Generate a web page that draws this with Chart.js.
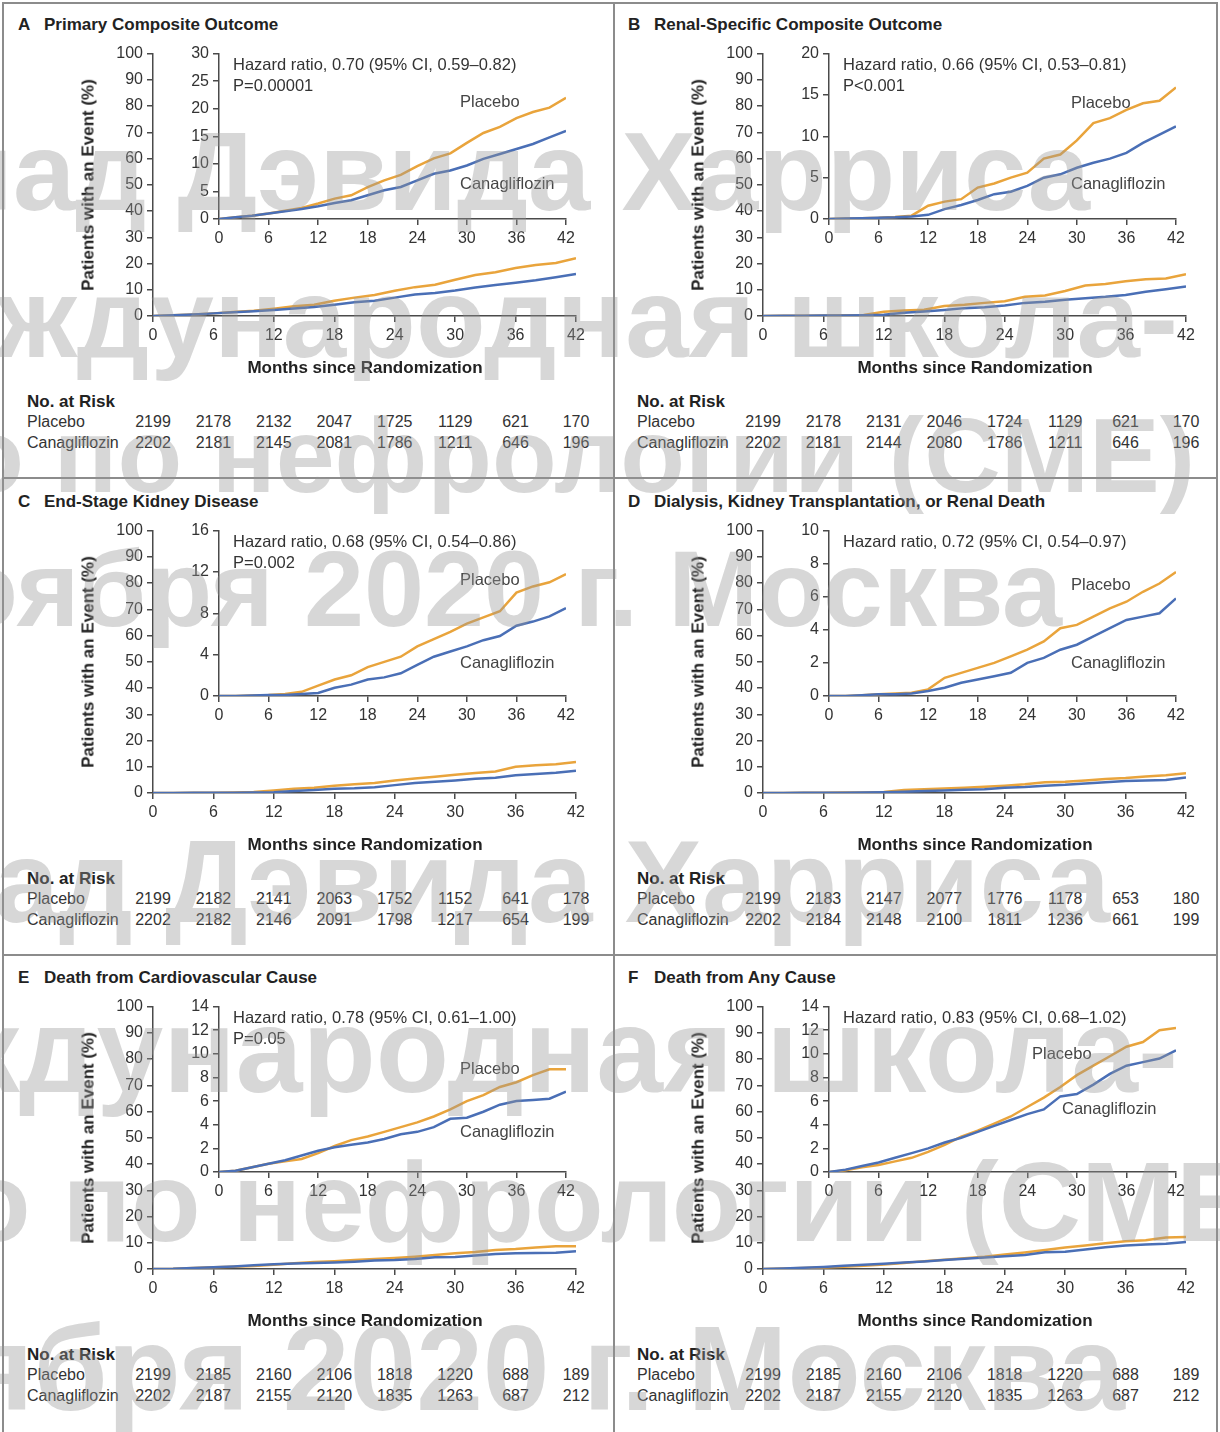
<!DOCTYPE html>
<html lang="en">
<head>
<meta charset="UTF-8">
<title>Canagliflozin vs Placebo - Outcomes</title>
<script src="https://cdn.jsdelivr.net/npm/chart.js"></script>
<style>
    body { margin: 0; background: #fff; }
    .page {
        position: relative; width: 1220px; height: 1432px; overflow: hidden;
        font-family: "Liberation Sans", Arial, sans-serif; color: #2a2a2a;
    }
    .panel { position: absolute; width: 610px; height: 477px; }
    .panel canvas { position: absolute; }
    .txt { position: absolute; white-space: nowrap; line-height: 1; }
    .bold { font-weight: bold; font-size: 17px; color: #222; }
    .note { font-size: 16.5px; color: #333; }
    .arm { font-size: 16.5px; color: #444; }
    .risk { font-size: 16px; color: #333; }
    .frame { position: absolute; background: #8c8c8c; }
    .mark {
        position: absolute; white-space: nowrap; line-height: 1; font-weight: bold;
        color: rgba(150, 150, 150, 0.38); pointer-events: none;
    }
</style>
</head>
<body>
<div class="page" id="page"></div>

<script>
    // Follow-up time (months) and axis ticks
    const months = [0, 2, 4, 6, 8, 10, 12, 14, 16, 18, 20, 22, 24, 26, 28, 30, 32, 34, 36, 38, 40, 42];
    const monthTicks = [0, 6, 12, 18, 24, 30, 36, 42];

    // Cumulative incidence (%) per arm
    const primaryPlacebo = [0, 0.3, 0.6, 1.0, 1.5, 2.0, 2.8, 3.7, 4.3, 5.8, 7.0, 8.0, 9.6, 11.0, 11.9, 13.8, 15.6, 16.7, 18.3, 19.4, 20.2, 22.0];
    const primaryCana = [0, 0.3, 0.6, 1.0, 1.4, 1.8, 2.3, 2.9, 3.4, 4.3, 5.2, 5.8, 7.0, 8.2, 8.8, 9.7, 10.9, 11.8, 12.7, 13.6, 14.8, 16.0];
    const renalPlacebo = [0, 0.05, 0.1, 0.15, 0.25, 0.4, 1.6, 2.1, 2.4, 3.8, 4.3, 5.0, 5.6, 7.3, 7.8, 9.5, 11.6, 12.2, 13.2, 14.0, 14.3, 15.9];
    const renalCana = [0, 0.05, 0.1, 0.15, 0.2, 0.3, 0.5, 1.2, 1.7, 2.3, 3.0, 3.3, 4.0, 5.0, 5.4, 6.2, 6.8, 7.3, 8.0, 9.2, 10.2, 11.2];
    const eskdPlacebo = [0, 0, 0.05, 0.1, 0.2, 0.4, 1.0, 1.6, 2.0, 2.8, 3.3, 3.8, 4.8, 5.5, 6.2, 7.0, 7.6, 8.2, 10.0, 10.6, 11.0, 11.8];
    const eskdCana = [0, 0, 0.05, 0.1, 0.1, 0.2, 0.3, 0.8, 1.1, 1.6, 1.8, 2.2, 3.0, 3.8, 4.3, 4.8, 5.4, 5.8, 6.8, 7.2, 7.7, 8.5];
    const dialysisPlacebo = [0, 0, 0.05, 0.1, 0.15, 0.2, 0.4, 1.1, 1.4, 1.7, 2.0, 2.4, 2.8, 3.3, 4.1, 4.3, 4.8, 5.3, 5.7, 6.3, 6.8, 7.5];
    const dialysisCana = [0, 0, 0.05, 0.1, 0.1, 0.15, 0.3, 0.5, 0.8, 1.0, 1.2, 1.4, 2.0, 2.3, 2.8, 3.1, 3.6, 4.1, 4.6, 4.8, 5.0, 5.9];
    const cvDeathPlacebo = [0, 0.1, 0.4, 0.7, 0.9, 1.1, 1.6, 2.2, 2.7, 3.0, 3.4, 3.8, 4.2, 4.7, 5.3, 6.0, 6.5, 7.2, 7.6, 8.2, 8.7, 8.7];
    const cvDeathCana = [0, 0.1, 0.4, 0.7, 1.0, 1.4, 1.8, 2.1, 2.3, 2.5, 2.8, 3.2, 3.4, 3.8, 4.5, 4.6, 5.1, 5.7, 6.0, 6.1, 6.2, 6.8];
    const anyDeathPlacebo = [0, 0.15, 0.4, 0.6, 0.9, 1.2, 1.7, 2.3, 3.0, 3.5, 4.1, 4.7, 5.5, 6.3, 7.2, 8.2, 9.0, 9.8, 10.6, 11.0, 12.0, 12.2];
    const anyDeathCana = [0, 0.2, 0.5, 0.8, 1.2, 1.6, 2.0, 2.5, 2.9, 3.4, 3.9, 4.4, 4.9, 5.3, 6.4, 6.6, 7.4, 8.3, 9.0, 9.3, 9.6, 10.3];

    // Numbers at risk at each 6-month tick
    const riskPlaceboA = [2199, 2178, 2132, 2047, 1725, 1129, 621, 170];
    const riskCanaA = [2202, 2181, 2145, 2081, 1786, 1211, 646, 196];
    const riskPlaceboB = [2199, 2178, 2131, 2046, 1724, 1129, 621, 170];
    const riskCanaB = [2202, 2181, 2144, 2080, 1786, 1211, 646, 196];
    const riskPlaceboC = [2199, 2182, 2141, 2063, 1752, 1152, 641, 178];
    const riskCanaC = [2202, 2182, 2146, 2091, 1798, 1217, 654, 199];
    const riskPlaceboD = [2199, 2183, 2147, 2077, 1776, 1178, 653, 180];
    const riskCanaD = [2202, 2184, 2148, 2100, 1811, 1236, 661, 199];
    const riskPlaceboE = [2199, 2185, 2160, 2106, 1818, 1220, 688, 189];
    const riskCanaE = [2202, 2187, 2155, 2120, 1835, 1263, 687, 212];
    const riskPlaceboF = [2199, 2185, 2160, 2106, 1818, 1220, 688, 189];
    const riskCanaF = [2202, 2187, 2155, 2120, 1835, 1263, 687, 212];

    // Panel texts and inset y ranges
    const panelLetters = ['A', 'B', 'C', 'D', 'E', 'F'];
    const panelTitles = ['Primary Composite Outcome', 'Renal-Specific Composite Outcome', 'End-Stage Kidney Disease',
        'Dialysis, Kidney Transplantation, or Renal Death', 'Death from Cardiovascular Cause', 'Death from Any Cause'];
    const hazardTexts = ['Hazard ratio, 0.70 (95% CI, 0.59–0.82)', 'Hazard ratio, 0.66 (95% CI, 0.53–0.81)',
        'Hazard ratio, 0.68 (95% CI, 0.54–0.86)', 'Hazard ratio, 0.72 (95% CI, 0.54–0.97)',
        'Hazard ratio, 0.78 (95% CI, 0.61–1.00)', 'Hazard ratio, 0.83 (95% CI, 0.68–1.02)'];
    const pTexts = ['P=0.00001', 'P<0.001', 'P=0.002', '', 'P=0.05', ''];
    const insetMax = [30, 20, 16, 10, 14, 14];
    const insetStep = [5, 5, 2, 2, 2, 2];

    const placeboSeries = [primaryPlacebo, renalPlacebo, eskdPlacebo, dialysisPlacebo, cvDeathPlacebo, anyDeathPlacebo];
    const canaSeries = [primaryCana, renalCana, eskdCana, dialysisCana, cvDeathCana, anyDeathCana];
    const riskPlacebo = [riskPlaceboA, riskPlaceboB, riskPlaceboC, riskPlaceboD, riskPlaceboE, riskPlaceboF];
    const riskCana = [riskCanaA, riskCanaB, riskCanaC, riskCanaD, riskCanaE, riskCanaF];

    // Layout: panel origins and arm label spots inside each panel
    const panelOrigins = [[0, 0], [610, 0], [0, 477], [610, 477], [0, 953], [610, 953]];
    const armLabelPos = [
        { p: [460, 101], c: [460, 183] }, { p: [461, 102], c: [461, 183] },
        { p: [460, 102], c: [460, 185] }, { p: [461, 107], c: [461, 185] },
        { p: [460, 115], c: [460, 178] }, { p: [422, 100], c: [452, 155] }
    ];

    const PLACEBO_COLOR = '#e9a43c';
    const CANA_COLOR = '#4a6fb6';
    const AXIS_COLOR = '#4a4a4a';

    const page = document.getElementById('page');

    function addText(parent, text, x, y, cls, align) {
        const el = document.createElement('div');
        el.className = 'txt ' + cls;
        el.textContent = text;
        el.style.left = x + 'px';
        el.style.top = y + 'px';
        const tx = align === 'center' ? '-50%' : '0';
        el.style.transform = `translate(${tx}, -50%)`;
        parent.appendChild(el);
        return el;
    }

    function addCanvas(parent, left, top, width, height) {
        const c = document.createElement('canvas');
        c.width = width; c.height = height;
        c.style.left = left + 'px'; c.style.top = top + 'px';
        c.style.width = width + 'px'; c.style.height = height + 'px';
        parent.appendChild(c);
        return c;
    }

    function axisOpts(min, max, step, fitKey, fitSize) {
        return {
            type: 'linear', min: min, max: max,
            ticks: { stepSize: step, color: '#333', font: { family: 'Liberation Sans', size: 16 }, padding: 4 },
            grid: { drawOnChartArea: false, tickLength: 6, color: AXIS_COLOR, lineWidth: 1.5 },
            border: { color: AXIS_COLOR, width: 1.5 },
            afterFit: (s) => { s[fitKey] = fitSize; }
        };
    }

    function kmChart(canvas, placebo, cana, yMax, yStep, pad, yWidth, xHeight) {
        const toPoints = (vals) => months.map((m, i) => ({ x: m, y: vals[i] }));
        return new Chart(canvas, {
            type: 'line',
            data: {
                datasets: [
                    { label: 'Canagliflozin', data: toPoints(cana), borderColor: CANA_COLOR, borderWidth: 2.5,
                      pointRadius: 0, tension: 0, fill: false },
                    { label: 'Placebo', data: toPoints(placebo), borderColor: PLACEBO_COLOR, borderWidth: 2.5,
                      pointRadius: 0, tension: 0, fill: false }
                ]
            },
            options: {
                responsive: false, animation: false,
                layout: { padding: pad },
                plugins: { legend: { display: false }, tooltip: { enabled: false } },
                scales: {
                    x: axisOpts(0, 42, 6, 'height', xHeight),
                    y: axisOpts(0, yMax, yStep, 'width', yWidth)
                }
            }
        });
    }

    panelOrigins.forEach(([ox, oy], i) => {
        const panel = document.createElement('div');
        panel.className = 'panel';
        panel.style.left = ox + 'px';
        panel.style.top = oy + 'px';
        page.appendChild(panel);

        addText(panel, panelLetters[i], 18, 24, 'bold');
        addText(panel, panelTitles[i], 44, 24, 'bold');

        // full-scale plot, 0-100%
        const mainLeft = 90, mainTop = 40;
        const mainCanvas = addCanvas(panel, mainLeft, mainTop, 520, 320);
        const main = kmChart(mainCanvas, placeboSeries[i], canaSeries[i], 100, 10,
            { top: 12, right: 34, left: 0, bottom: 0 }, 63, 44);

        // zoomed inset
        const insetCanvas = addCanvas(panel, 170, 40, 410, 215);
        kmChart(insetCanvas, placeboSeries[i], canaSeries[i], insetMax[i], insetStep[i],
            { top: 12, right: 14, left: 0, bottom: 0 }, 49, 36);

        addText(panel, hazardTexts[i], 233, 64, 'note');
        if (pTexts[i]) addText(panel, pTexts[i], 233, 85, 'note');
        addText(panel, 'Placebo', armLabelPos[i].p[0], armLabelPos[i].p[1], 'arm');
        addText(panel, 'Canagliflozin', armLabelPos[i].c[0], armLabelPos[i].c[1], 'arm');

        // axis titles
        const yTitle = addText(panel, 'Patients with an Event (%)', 88, 185, 'bold', 'center');
        yTitle.style.transform = 'translate(-50%, -50%) rotate(-90deg)';
        addText(panel, 'Months since Randomization', 365, 367, 'bold', 'center');

        // numbers at risk, aligned on the month ticks
        addText(panel, 'No. at Risk', 27, 401, 'bold');
        addText(panel, 'Placebo', 27, 422, 'risk');
        addText(panel, 'Canagliflozin', 27, 443, 'risk');
        monthTicks.forEach((m, k) => {
            const px = mainLeft + main.scales.x.getPixelForValue(m);
            addText(panel, String(riskPlacebo[i][k]), px, 422, 'risk', 'center');
            addText(panel, String(riskCana[i][k]), px, 443, 'risk', 'center');
        });
    });

    // panel frame lines
    [[2, 2, 1216, 2], [2, 2, 2, 1432], [1216, 2, 2, 1432], [613, 2, 2, 1432], [2, 477, 1216, 2], [2, 954, 1216, 2]]
        .forEach(([x, y, w, h]) => {
            const f = document.createElement('div');
            f.className = 'frame';
            f.style.left = x + 'px'; f.style.top = y + 'px';
            f.style.width = w + 'px'; f.style.height = h + 'px';
            page.appendChild(f);
        });

    // event watermark over the figure: text, right edge, baseline, size
    const markLines = [
        ['Доклад Дэвида Харриса', 1090, 211, 112],
        ['Международная школа-', 1178, 358, 114],
        ['о по нефрологии (CME)', 1195, 492, 106],
        ['ноября 2020 г. Москва', 1062, 626, 108],
        ['Доклад Дэвида Харриса', 1110, 922, 116],
        ['Международная школа-', 1178, 1092, 120],
        ['о по нефрологии (CME)', 1290, 1242, 114],
        ['ноября 2020 г. Москва', 1125, 1410, 120]
    ];
    markLines.forEach(([text, right, base, size]) => {
        const el = document.createElement('div');
        el.className = 'mark';
        el.textContent = text;
        el.style.fontSize = size + 'px';
        el.style.right = (1220 - right) + 'px';
        el.style.top = (base - 0.8465 * size) + 'px';
        page.appendChild(el);
    });
</script>
</body>
</html>
